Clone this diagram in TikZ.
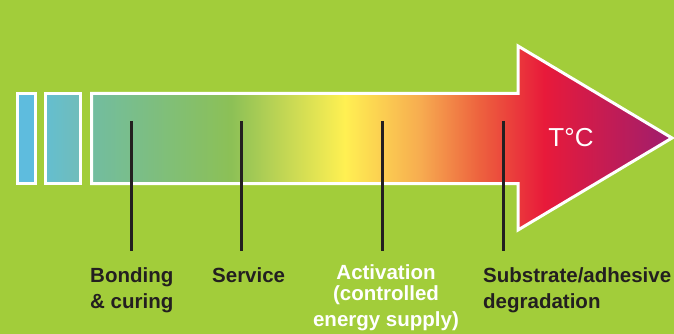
\documentclass[tikz,border=0pt]{standalone}
\usepackage{fontspec}
\setmainfont{Liberation Sans}
\usetikzlibrary{positioning}

\definecolor{lime}{RGB}{162,205,58}
\definecolor{ink}{RGB}{35,31,32}
\definecolor{sky}{RGB}{94,188,222}
\definecolor{skyteal}{RGB}{100,190,208}
\definecolor{tealA}{RGB}{112,189,186}
\definecolor{heatA}{RGB}{114,189,160}
\definecolor{heatB}{RGB}{140,192,86}
\definecolor{heatC}{RGB}{255,240,82}
\definecolor{heatD}{RGB}{247,172,80}
\definecolor{heatE}{RGB}{237,98,62}
\definecolor{heatF}{RGB}{232,26,58}
\definecolor{heatG}{RGB}{158,30,110}

% temperature scale, left (cold) to right (hot)
\pgfdeclarehorizontalshading{heat}{100bp}{
  color(0bp)=(heatA); color(25bp)=(heatA); color(37bp)=(heatB);
  color(46.8bp)=(heatC); color(53.3bp)=(heatD); color(58.4bp)=(heatE);
  color(64bp)=(heatF); color(75bp)=(heatG); color(100bp)=(heatG)}

\begin{document}
\begin{tikzpicture}[x=1pt, y=-1pt,
    box/.style={draw=white, line width=3pt},
    marker/.style={draw=ink, line width=3pt},
    caption/.style={font=\bfseries\fontsize{20.5}{26}\selectfont, text=ink,
      inner sep=0pt, anchor=base west, align=left}]
  \fill[lime] (0,0) rectangle (674,334);
  \useasboundingbox (0,0) rectangle (674,334);

  % small blocks before the arrow
  \filldraw[box, fill=sky] (17.5,93.5) rectangle (35,183.5);
  \shade[box, left color=skyteal, right color=tealA] (45,93.5) rectangle (80,183.5);

  % the arrow
  \shade[box, shading=heat] (91.5,93.5) -- (518,93.5) -- (518,46) -- (672,138)
    -- (518,230) -- (518,183.5) -- (91.5,183.5) -- cycle;
  \node[text=white, font=\fontsize{26}{26}\selectfont] (temp) at (571,138) {T°C};

  % markers
  \foreach \x/\n in {131/bond, 241/serv, 382/act, 503/degr} {
    \coordinate (\n-top) at (\x,121);
    \coordinate (\n-bot) at (\x,251);
    \draw[marker] (\n-top) -- (\n-bot);
  }

  % captions (base = last line)
  \node[caption] (bond) at (90,308) {Bonding\\\& curing};
  \node[caption] (serv) at (212,282) {Service};
  \node[caption, text=white, align=center, anchor=base] (act) at (386,326)
    {Activation\\[-5pt](controlled\\energy supply)};
  \node[caption] (degr) at (483,308) {Substrate/adhesive\\degradation};
\end{tikzpicture}
\end{document}
